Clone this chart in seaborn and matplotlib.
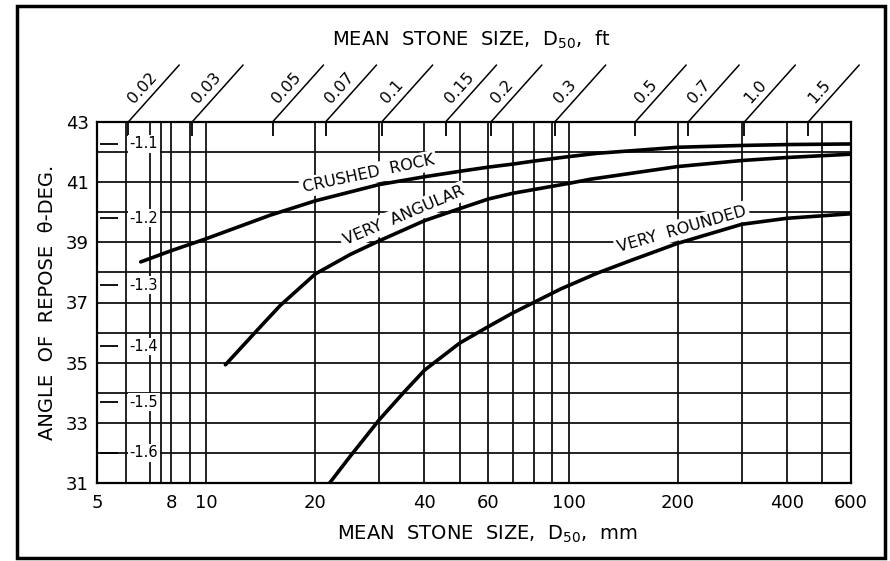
import numpy as np
import pandas as pd
import seaborn as sns
import matplotlib.pyplot as plt
from matplotlib.patches import Rectangle
from matplotlib.ticker import NullFormatter

sns.set_style("white")
plt.rcParams["font.family"] = ["DejaVu Sans"]
plt.rcParams["text.color"] = "black"
plt.rcParams["xtick.color"] = "black"
plt.rcParams["ytick.color"] = "black"

# curves: mean stone size (mm) vs angle of repose (deg)
crushed_mm = [6.6, 8, 10, 15, 20, 30, 40, 50, 60, 70, 80, 100, 120, 200, 300, 400, 600]
crushed_deg = [38.35, 38.72, 39.12, 39.9, 40.38, 40.92, 41.18, 41.36, 41.5, 41.6, 41.7,
               41.85, 41.96, 42.16, 42.22, 42.25, 42.27]
angular_mm = [11.3, 14, 16, 20, 25, 30, 40, 50, 60, 70, 100, 115, 200, 300, 400, 600]
angular_deg = [34.93, 36.15, 36.9, 37.95, 38.6, 39.05, 39.72, 40.12, 40.44, 40.63,
               40.96, 41.1, 41.52, 41.72, 41.82, 41.93]
rounded_mm = [21.9, 25, 30, 35, 40, 50, 60, 70, 80, 95, 120, 150, 200, 300, 400, 600]
rounded_deg = [31.0, 31.9, 33.1, 34.0, 34.75, 35.65, 36.2, 36.65, 37.0, 37.45, 37.98,
               38.42, 38.97, 39.6, 39.8, 39.95]

# axes ticks / grid
mm_major = [5, 8, 10, 20, 40, 60, 100, 200, 400, 600]
mm_minor = [6, 7, 7.5, 9, 30, 50, 70, 80, 90, 300, 500]
deg_major = [31, 33, 35, 37, 39, 41, 43]
deg_minor = [32, 34, 36, 38, 40, 42]
ft_ticks = [0.02, 0.03, 0.05, 0.07, 0.1, 0.15, 0.2, 0.3, 0.5, 0.7, 1.0, 1.5]
ft_labels = ["0.02", "0.03", "0.05", "0.07", "0.1", "0.15", "0.2", "0.3",
             "0.5", "0.7", "1.0", "1.5"]
cot_values = [1.1, 1.2, 1.3, 1.4, 1.5, 1.6]
MM_PER_FT = 304.8

df = pd.concat([
    pd.DataFrame({"mm": crushed_mm, "deg": crushed_deg, "curve": "CRUSHED ROCK"}),
    pd.DataFrame({"mm": angular_mm, "deg": angular_deg, "curve": "VERY ANGULAR"}),
    pd.DataFrame({"mm": rounded_mm, "deg": rounded_deg, "curve": "VERY ROUNDED"}),
])

fig = plt.figure(figsize=(8.9, 5.61), dpi=100)
ax = fig.add_axes([97 / 890, 1 - 483 / 561, 754 / 890, 361 / 561])

sns.lineplot(data=df, x="mm", y="deg", units="curve", estimator=None,
             color="black", lw=2.6, sort=False, ax=ax, zorder=5)

ax.set_xscale("log")
ax.set_xlim(5, 600)
ax.set_ylim(31, 43)
ax.set_xticks(mm_major)
ax.set_xticklabels([str(v) for v in mm_major])
ax.set_xticks(mm_minor, minor=True)
ax.xaxis.set_minor_formatter(NullFormatter())
ax.set_yticks(deg_major)
ax.set_yticks(deg_minor, minor=True)
ax.tick_params(which="both", length=0, labelsize=13, labelcolor="black")
ax.tick_params(axis="x", pad=8)
ax.tick_params(axis="y", pad=6)
ax.set_xlabel("")
ax.set_ylabel("")
ax.set_axisbelow(True)
ax.grid(which="both", color="#111111", lw=1.3)
for s in ax.spines.values():
    s.set_color("black")
    s.set_linewidth(1.6)

# cotangent marks on the left
for c in cot_values:
    th = np.degrees(np.arctan(1 / c))
    ax.hlines(th, 5.1, 5.72, color="black", lw=1.3, zorder=3)
    ax.text(6.15, th, f"-{c}", ha="left", va="center", fontsize=10.5, zorder=4,
            bbox=dict(fc="white", ec="none", pad=1))

# top scale in feet with slanted labels
trans = ax.get_xaxis_transform()
for v, lab in zip(ft_ticks, ft_labels):
    mm = v * MM_PER_FT
    ax.vlines(mm, 0.962, 1, transform=trans, color="black", lw=1.3, clip_on=False)
    ax.annotate("", xy=(mm, 1), xycoords=trans, xytext=(51, 57),
                textcoords="offset pixels", annotation_clip=False,
                arrowprops=dict(arrowstyle="-", lw=1.1, color="black",
                                shrinkA=0, shrinkB=0))
    ax.annotate(lab, xy=(mm, 1), xycoords=trans, xytext=(8, 16),
                textcoords="offset pixels", rotation=48, rotation_mode="anchor",
                ha="left", va="bottom", fontsize=11.5, annotation_clip=False)

# curve labels
label_kw = dict(ha="center", va="center", fontsize=11.5, zorder=4,
                bbox=dict(fc="white", ec="none", pad=2))
ax.text(28, 41.27, "CRUSHED  ROCK", rotation=12, **label_kw)
ax.text(35, 39.88, "VERY  ANGULAR", rotation=23, **label_kw)
ax.text(205, 39.45, "VERY  ROUNDED", rotation=16, **label_kw)

# axis titles
ax.text(0.496, 1.227, "MEAN  STONE  SIZE,  D$_{50}$,  ft", transform=ax.transAxes,
        ha="center", va="center", fontsize=14)
ax.text(0.517, -0.143, "MEAN  STONE  SIZE,  D$_{50}$,  mm", transform=ax.transAxes,
        ha="center", va="center", fontsize=14)
ax.text(-0.065, 0.501, "ANGLE  OF  REPOSE  θ-DEG.", transform=ax.transAxes,
        rotation=90, ha="center", va="center", fontsize=14)

# outer frame
fig.add_artist(Rectangle((17 / 890, 3 / 561), 868 / 890, 552 / 561,
                         transform=fig.transFigure, fill=False, lw=2.5, ec="black"))

fig.savefig("out.png", dpi=100)
plt.close(fig)
